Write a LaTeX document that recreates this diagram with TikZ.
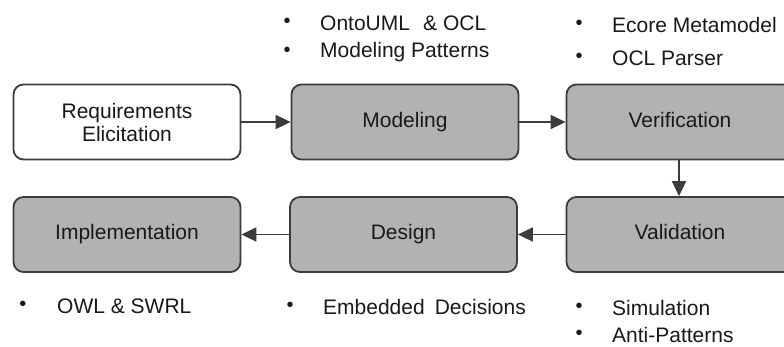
\documentclass[tikz,border=0pt]{standalone}
\usepackage{fontspec}
\setmainfont{Liberation Sans}
\usetikzlibrary{arrows.meta}
\definecolor{boxgray}{RGB}{178,178,178}
\definecolor{edgegray}{RGB}{60,60,60}
\definecolor{txt}{RGB}{25,25,25}
\begin{document}
\begin{tikzpicture}[x=1pt,y=-1pt,
  stage/.style={draw=edgegray,line width=1.8pt,rounded corners=10pt,fill=boxgray,
    minimum width=227pt,minimum height=75pt,align=center,inner sep=0pt,
    font=\fontsize{21}{23}\selectfont,text=txt},
  oneline/.style={text height=15pt,text depth=4pt},
  whitestage/.style={stage,fill=white},
  flow/.style={draw=edgegray,line width=1.8pt,-{Triangle[length=15pt,width=14pt]}},
  bul/.style={anchor=center,inner sep=0pt,font=\fontsize{20}{22}\selectfont,text=txt},
  item/.style={anchor=west,inner sep=0pt,font=\fontsize{21}{23}\selectfont,text=txt}]
\useasboundingbox (0,0) rectangle (784,347);
\begin{scope}
\clip (0,0) rectangle (784,347);
\node[whitestage] (req) at (127,122) {Requirements\\Elicitation};
\node[stage,oneline] (mod) at (405,122) {Modeling};
\node[stage,oneline] (ver) at (680,122) {Verification};
\node[stage,oneline] (impl) at (127,234.5) {Implementation};
\node[stage,oneline] (des) at (403.5,234.5) {Design};
\node[stage,oneline] (val) at (680,234.5) {Validation};
\end{scope}
\draw[flow] (req) -- (mod);
\draw[flow] (mod) -- (ver);
\draw[flow] (ver.south -| 679,0) -- (val.north -| 679,0);
\draw[flow] (val) -- (des);
\draw[flow] (des) -- (impl);
% bullet lists
\node[bul] (b1) at (287,23) {•};
\node[item] (t1) at (320,23) {OntoUML\hspace{0.35em} \& OCL};
\node[bul] (b2) at (287,52) {•};
\node[item] (t2) at (320,52) {Modeling Patterns};
\node[bul] (b3) at (579,25) {•};
\node[item] (t3) at (612,25) {Ecore Metamodel};
\node[bul] (b4) at (579,58) {•};
\node[item] (t4) at (612,58) {OCL Parser};
\node[bul] (b5) at (23,306) {•};
\node[item] (t5) at (57,306) {OWL \& SWRL};
\node[bul] (b6) at (290,307) {•};
\node[item] (t6) at (323,307) {Embedded\hspace{0.2em} Decisions};
\node[bul] (b7) at (579,308) {•};
\node[item] (t7) at (612,308) {Simulation};
\node[bul] (b8) at (579,335) {•};
\node[item] (t8) at (612,335) {Anti-Patterns};
\end{tikzpicture}
\end{document}
